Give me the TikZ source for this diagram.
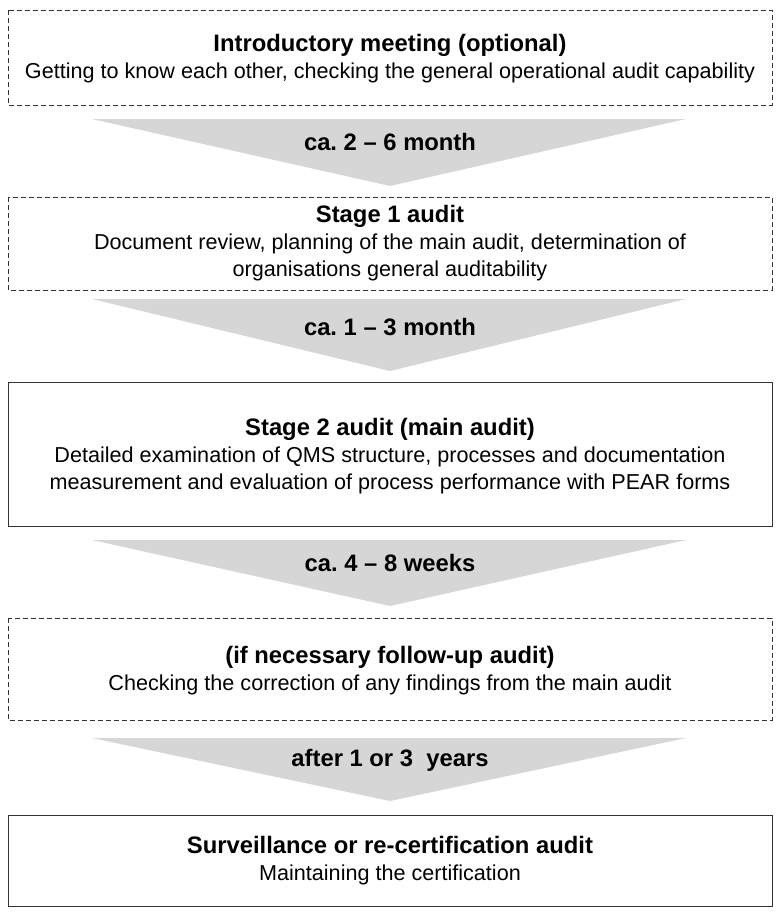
\documentclass[tikz,border=0pt]{standalone}
\usepackage{fontspec}
\setmainfont{Liberation Sans}
\frenchspacing
\newcommand{\hd}[1]{{\fontsize{23.8}{28}\selectfont\bfseries #1}}
\begin{document}
\begin{tikzpicture}[x=1pt,y=-1pt,
  box/.style={draw=black!80,line width=1pt},
  dbox/.style={box,dash pattern=on 5pt off 3pt},
  txt/.style={align=center,font=\fontsize{21.6}{27}\selectfont,inner sep=0pt},
  arr/.style={fill=black!16},
  lab/.style={font=\fontsize{23.8}{26}\selectfont\bfseries,inner sep=0pt}]
\useasboundingbox (0,0) rectangle (780,916);
\draw[dbox] (8,10) rectangle (772,105);
\node[txt] (b1) at (390,59) {\hd{Introductory meeting (optional)}\\Getting to know each other, checking the general operational audit capability};
\fill[arr] (92,119) -- (686,119) -- (390,186) -- cycle;
\node[lab] (a1) at (390,142) {ca. 2 – 6 month};
\draw[dbox] (8,197) rectangle (772,290);
\node[txt] (b2) at (390,243) {\hd{Stage 1 audit}\\Document review, planning of the main audit, determination of\\organisations general auditability};
\fill[arr] (92,299) -- (686,299) -- (390,371) -- cycle;
\node[lab] (a2) at (390,327) {ca. 1 – 3 month};
\draw[box] (8,382) rectangle (772,526);
\node[txt] (b3) at (390,456) {\hd{Stage 2 audit (main audit)}\\Detailed examination of QMS structure, processes and documentation\\measurement and evaluation of process performance with PEAR forms};
\fill[arr] (92,540) -- (686,540) -- (390,606) -- cycle;
\node[lab] (a3) at (390,563) {ca. 4 – 8 weeks};
\draw[dbox] (8,618) rectangle (772,720);
\node[txt] (b4) at (390,671) {\hd{(if necessary follow-up audit)}\\Checking the correction of any findings from the main audit};
\fill[arr] (92,738) -- (686,738) -- (390,801) -- cycle;
\node[lab] (a4) at (390,760) {after 1 or 3\ \ years};
\draw[box] (8,815) rectangle (772,906);
\node[txt] (b5) at (390,861) {\hd{Surveillance or re-certification audit}\\Maintaining the certification};
\end{tikzpicture}
\end{document}
